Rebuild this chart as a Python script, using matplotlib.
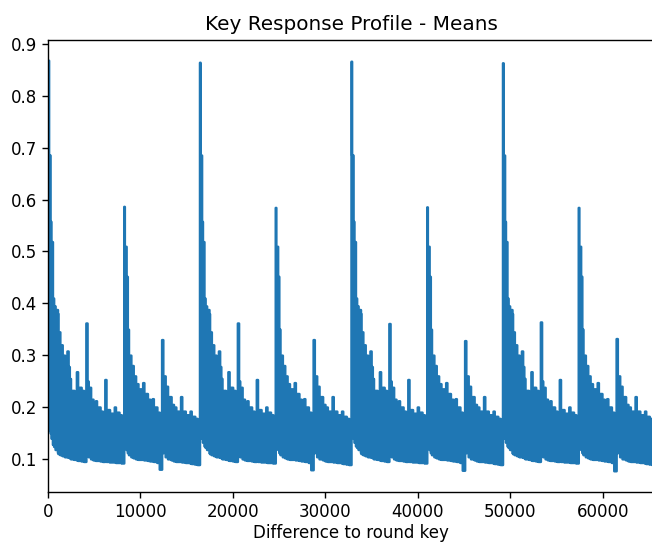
import numpy as np
import matplotlib
matplotlib.use("Agg")
import matplotlib.pyplot as plt

# 4 blocs de 16384 differences (meme structure)
block_start = [0, 16384, 32768, 49152]

# debut de chaque palier dans un bloc
offsets = [0, 64, 224, 320, 480, 608, 768, 1024, 1088, 1280,
           1536, 1792, 2048, 2176, 2304, 2432, 2816, 3072, 3200, 3584,
           3840, 4096, 4224, 4352, 4608, 4864, 5120, 5248, 5632, 5888,
           6144, 6272, 6656, 7168, 7296, 7680, 7936, 8192, 8256, 8448,
           8576, 8704, 8960, 9216, 9472, 9728, 10240, 10368, 10752, 11008,
           11264, 11392, 11776, 12032, 12288, 12416, 12672, 12928, 13312, 13568,
           13824, 14336, 14464, 14848, 15360, 15488, 15872, 16128, 16383]

# enveloppe haute par bloc
upper_b1 = [0.869, 0.686, 0.558, 0.519, 0.410, 0.395, 0.388, 0.380, 0.345, 0.320,
            0.300, 0.285, 0.308, 0.278, 0.255, 0.232, 0.226, 0.268, 0.238, 0.232,
            0.228, 0.362, 0.250, 0.238, 0.215, 0.208, 0.212, 0.200, 0.192, 0.186,
            0.253, 0.195, 0.188, 0.200, 0.190, 0.185, 0.182, 0.587, 0.510, 0.452,
            0.350, 0.300, 0.280, 0.260, 0.245, 0.235, 0.247, 0.226, 0.215, 0.210,
            0.216, 0.200, 0.190, 0.186, 0.330, 0.260, 0.240, 0.220, 0.205, 0.200,
            0.192, 0.220, 0.192, 0.185, 0.192, 0.182, 0.178, 0.175, 0.175]
upper_b2 = [0.865, 0.686, 0.558, 0.519, 0.410, 0.395, 0.388, 0.380, 0.345, 0.320,
            0.300, 0.285, 0.308, 0.278, 0.255, 0.232, 0.226, 0.268, 0.238, 0.232,
            0.228, 0.362, 0.250, 0.238, 0.215, 0.208, 0.212, 0.200, 0.192, 0.186,
            0.253, 0.195, 0.188, 0.200, 0.190, 0.185, 0.182, 0.585, 0.510, 0.452,
            0.350, 0.300, 0.280, 0.260, 0.245, 0.235, 0.247, 0.226, 0.215, 0.210,
            0.216, 0.200, 0.190, 0.186, 0.330, 0.260, 0.240, 0.220, 0.205, 0.200,
            0.192, 0.220, 0.192, 0.185, 0.192, 0.182, 0.178, 0.175, 0.175]
upper_b3 = [0.867, 0.686, 0.558, 0.519, 0.410, 0.395, 0.388, 0.380, 0.345, 0.320,
            0.300, 0.285, 0.308, 0.278, 0.255, 0.232, 0.226, 0.268, 0.238, 0.232,
            0.228, 0.361, 0.250, 0.238, 0.215, 0.208, 0.212, 0.200, 0.192, 0.186,
            0.253, 0.195, 0.188, 0.200, 0.190, 0.185, 0.182, 0.586, 0.510, 0.452,
            0.350, 0.300, 0.280, 0.260, 0.245, 0.235, 0.247, 0.226, 0.215, 0.210,
            0.216, 0.200, 0.190, 0.186, 0.328, 0.260, 0.240, 0.220, 0.205, 0.200,
            0.192, 0.220, 0.192, 0.185, 0.192, 0.182, 0.178, 0.175, 0.175]
upper_b4 = [0.864, 0.686, 0.558, 0.519, 0.410, 0.395, 0.388, 0.380, 0.345, 0.320,
            0.300, 0.285, 0.308, 0.278, 0.255, 0.232, 0.226, 0.268, 0.238, 0.232,
            0.228, 0.364, 0.250, 0.238, 0.215, 0.208, 0.212, 0.200, 0.192, 0.186,
            0.253, 0.195, 0.188, 0.200, 0.190, 0.185, 0.182, 0.585, 0.510, 0.452,
            0.350, 0.300, 0.280, 0.260, 0.245, 0.235, 0.247, 0.226, 0.215, 0.210,
            0.216, 0.200, 0.190, 0.186, 0.332, 0.260, 0.240, 0.220, 0.205, 0.200,
            0.192, 0.220, 0.192, 0.185, 0.192, 0.182, 0.178, 0.175, 0.175]

# enveloppe basse par bloc
lower_b1 = [0.160, 0.155, 0.150, 0.140, 0.128, 0.124, 0.118, 0.112, 0.110, 0.108,
            0.106, 0.104, 0.104, 0.103, 0.102, 0.100, 0.099, 0.098, 0.097, 0.096,
            0.095, 0.138, 0.110, 0.104, 0.100, 0.098, 0.097, 0.097, 0.096, 0.095,
            0.098, 0.095, 0.094, 0.094, 0.093, 0.093, 0.092, 0.135, 0.125, 0.118,
            0.112, 0.108, 0.104, 0.102, 0.100, 0.099, 0.099, 0.098, 0.097, 0.096,
            0.096, 0.095, 0.093, 0.080, 0.145, 0.112, 0.104, 0.100, 0.098, 0.096,
            0.095, 0.095, 0.094, 0.093, 0.092, 0.091, 0.090, 0.089, 0.089]
lower_b2 = [0.150, 0.145, 0.140, 0.132, 0.125, 0.122, 0.118, 0.112, 0.110, 0.108,
            0.106, 0.104, 0.104, 0.103, 0.102, 0.100, 0.099, 0.098, 0.097, 0.096,
            0.095, 0.138, 0.110, 0.104, 0.100, 0.098, 0.097, 0.097, 0.096, 0.095,
            0.098, 0.095, 0.094, 0.094, 0.093, 0.093, 0.092, 0.135, 0.125, 0.118,
            0.112, 0.108, 0.104, 0.102, 0.100, 0.099, 0.099, 0.098, 0.097, 0.096,
            0.096, 0.095, 0.093, 0.079, 0.145, 0.112, 0.104, 0.100, 0.098, 0.096,
            0.095, 0.095, 0.094, 0.093, 0.092, 0.091, 0.090, 0.089, 0.089]
lower_b3 = [0.150, 0.145, 0.140, 0.132, 0.125, 0.122, 0.118, 0.112, 0.110, 0.108,
            0.106, 0.104, 0.104, 0.103, 0.102, 0.100, 0.099, 0.098, 0.097, 0.096,
            0.095, 0.138, 0.110, 0.104, 0.100, 0.098, 0.097, 0.097, 0.096, 0.095,
            0.098, 0.095, 0.094, 0.094, 0.093, 0.093, 0.092, 0.135, 0.125, 0.118,
            0.112, 0.108, 0.104, 0.102, 0.100, 0.099, 0.099, 0.098, 0.097, 0.096,
            0.096, 0.095, 0.093, 0.078, 0.145, 0.112, 0.104, 0.100, 0.098, 0.096,
            0.095, 0.095, 0.094, 0.093, 0.092, 0.091, 0.090, 0.089, 0.089]
lower_b4 = [0.150, 0.145, 0.140, 0.132, 0.125, 0.122, 0.118, 0.112, 0.110, 0.108,
            0.106, 0.104, 0.104, 0.103, 0.102, 0.100, 0.099, 0.098, 0.097, 0.096,
            0.095, 0.138, 0.110, 0.104, 0.100, 0.098, 0.097, 0.097, 0.096, 0.095,
            0.098, 0.095, 0.094, 0.094, 0.093, 0.093, 0.092, 0.135, 0.125, 0.118,
            0.112, 0.108, 0.104, 0.102, 0.100, 0.099, 0.099, 0.098, 0.097, 0.096,
            0.096, 0.095, 0.093, 0.077, 0.145, 0.112, 0.104, 0.100, 0.098, 0.096,
            0.095, 0.095, 0.094, 0.093, 0.092, 0.091, 0.090, 0.089, 0.089]

# assemblage
x = np.concatenate([s + np.array(offsets) for s in block_start])
y_hi = np.concatenate([upper_b1, upper_b2, upper_b3, upper_b4])
y_lo = np.concatenate([lower_b1, lower_b2, lower_b3, lower_b4])

fig = plt.figure(figsize=(6.52, 5.42), dpi=100)
ax = fig.add_axes([48 / 652, 50 / 542, 606 / 652, 452 / 542])

# bande des moyennes (signal tres dense)
ax.fill_between(x, y_lo, y_hi, step='post',
                facecolor='#1f77b4', edgecolor='#1f77b4', linewidth=1.8)

ax.set_xlim(0, 65535)
ax.set_ylim(0.036, 0.908)
ax.set_title('Key Response Profile - Means', fontsize=14.4, pad=7)
ax.set_xlabel('Difference to round key', fontsize=12, labelpad=2.5)
ax.tick_params(labelsize=12, length=4.2, width=1)
for sp in ax.spines.values():
    sp.set_linewidth(1)

fig.savefig('out.png', dpi=100)
